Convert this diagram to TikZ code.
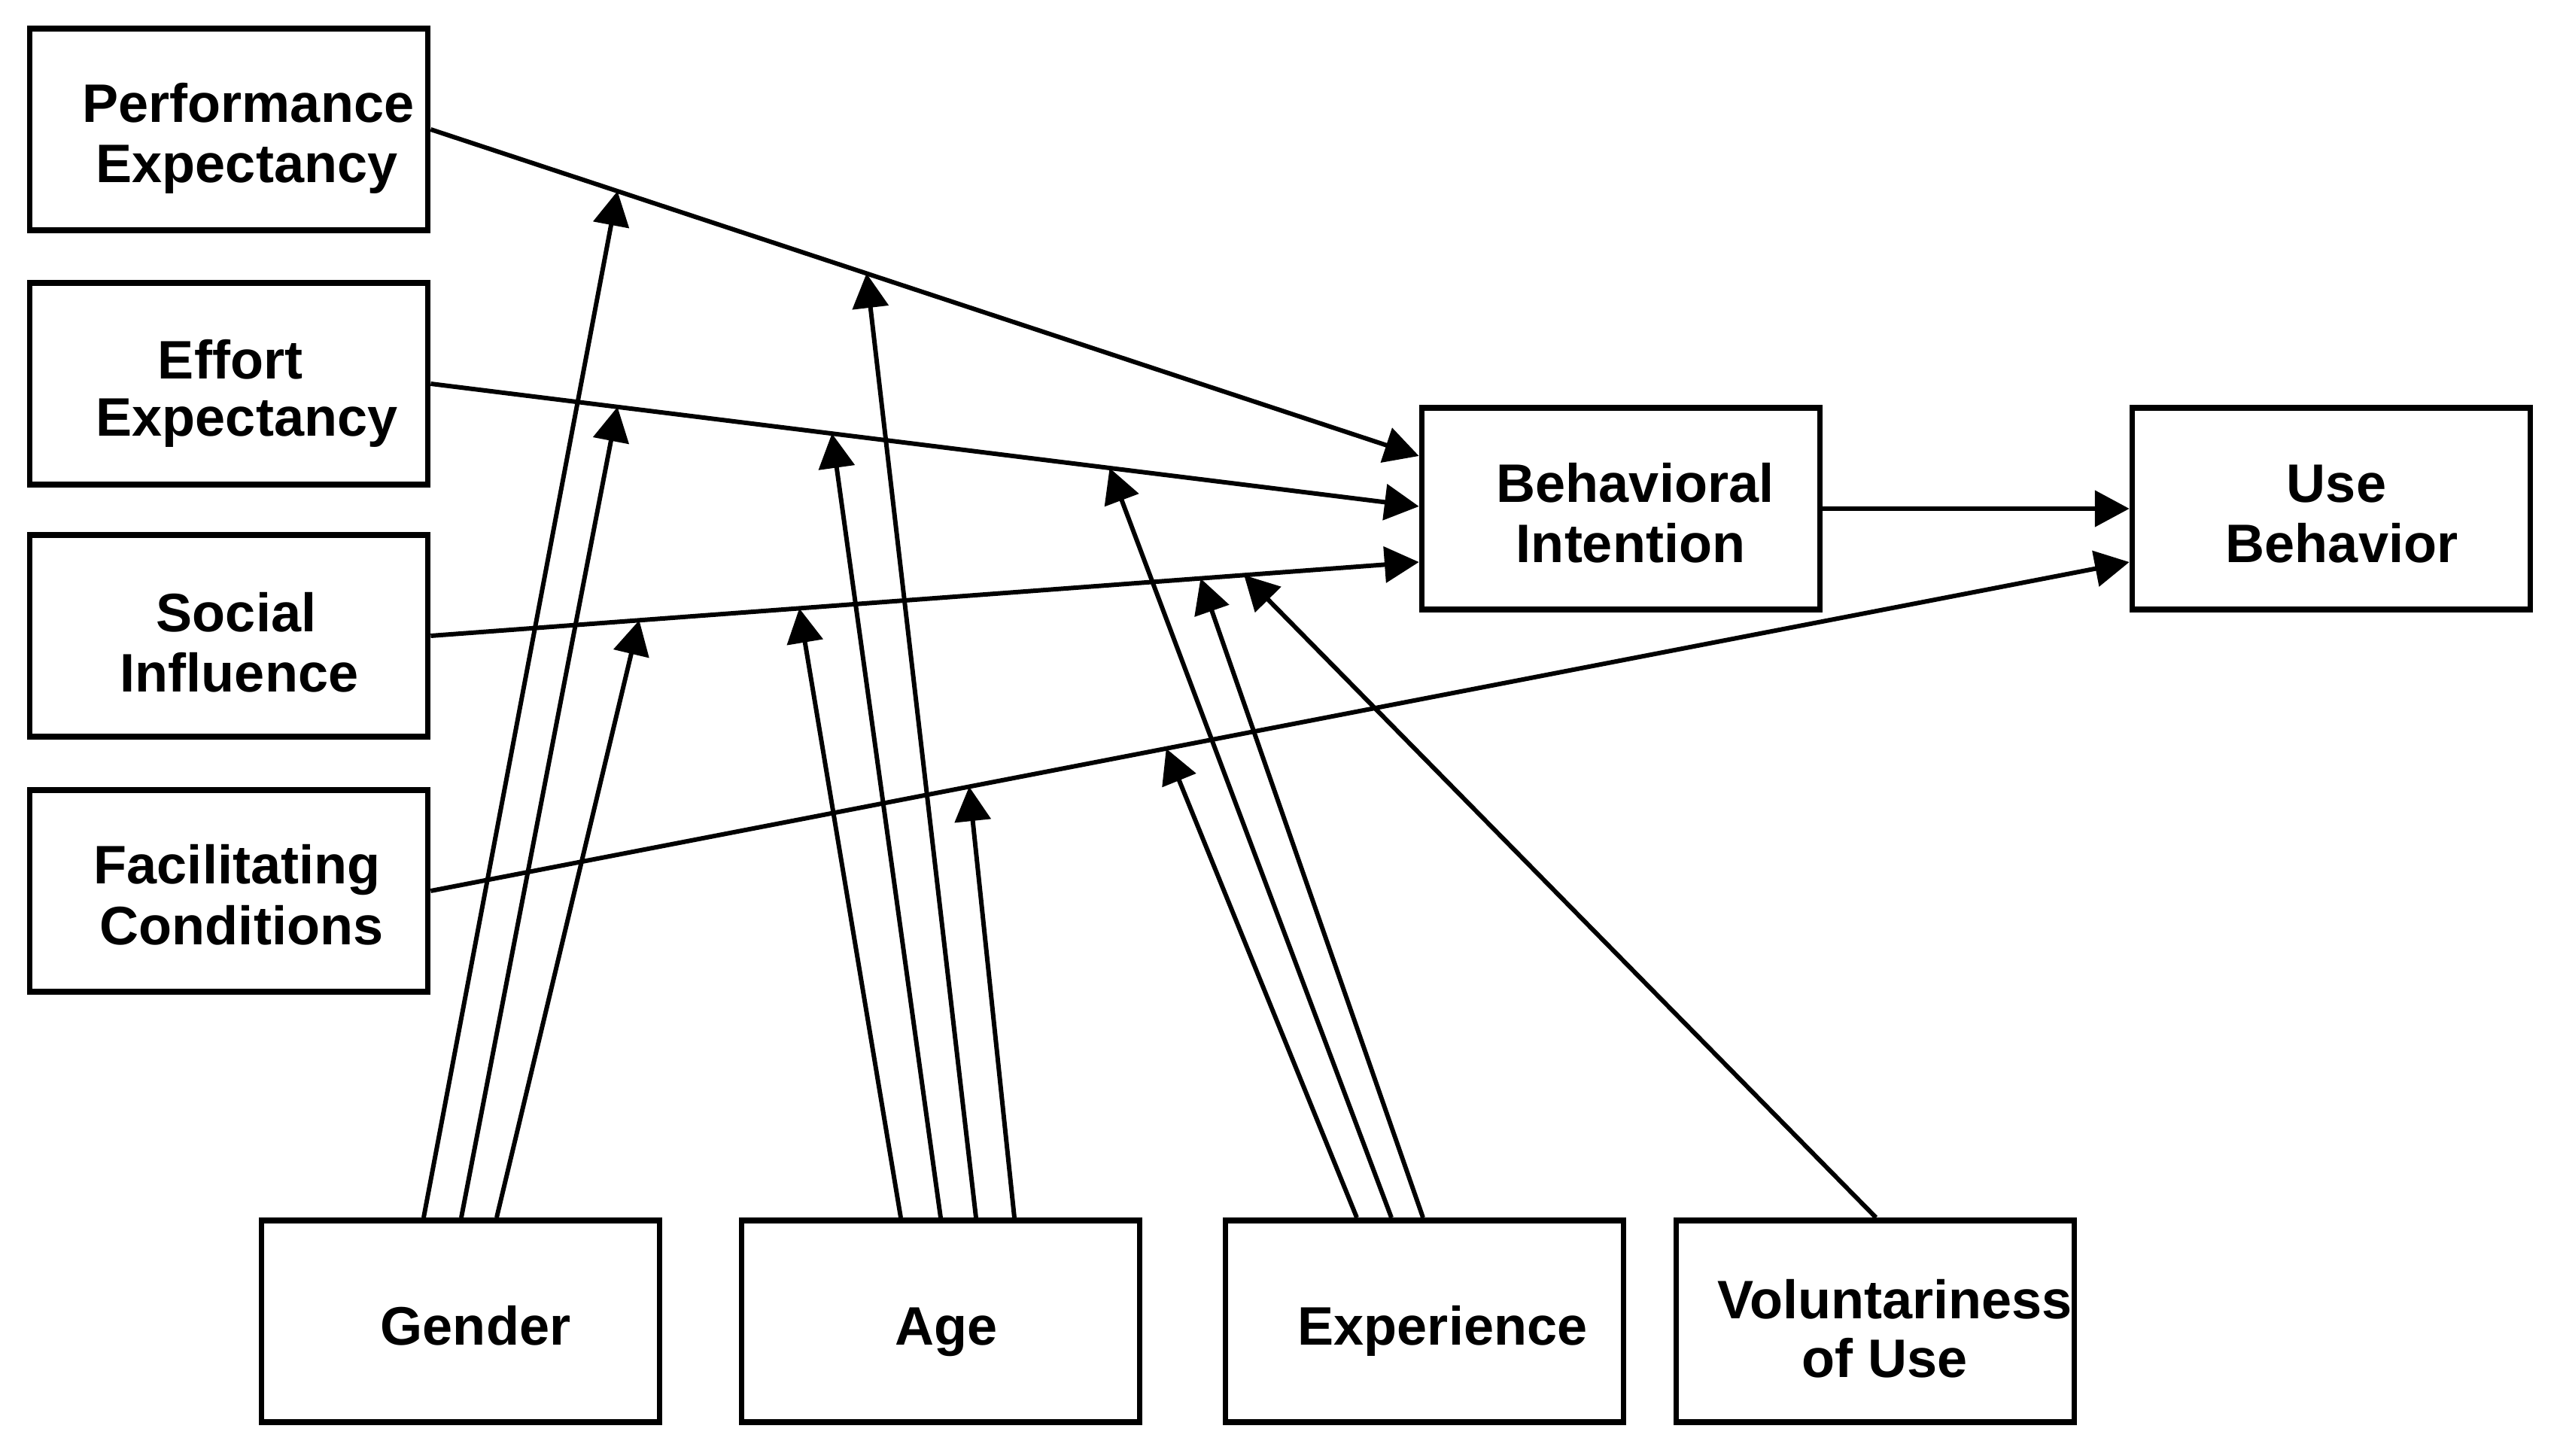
\documentclass[tikz,border=0pt]{standalone}
\usepackage{fontspec}
\setmainfont{Liberation Sans}
\usetikzlibrary{arrows.meta,calc}
\begin{document}
\begin{tikzpicture}[
  box/.style={draw, line width=2.2pt, minimum width=5.29cm, minimum height=2.68cm, inner sep=0pt},
  lbl/.style={anchor=base, inner sep=0pt, font=\fontsize{20.5}{24}\selectfont\bfseries},
  conn/.style={line width=1.7pt, -{Triangle[length=13pt,width=13.5pt]}},
]
\useasboundingbox (0,0) rectangle (33.94,-19.35);
\fill[white] (0,0) rectangle (33.94,-19.35);

% boxes
\node[box] (PE) at (3.04,-1.72) {};
\node[box] (EE) at (3.04,-5.10) {};
\node[box] (SI) at (3.04,-8.45) {};
\node[box] (FC) at (3.04,-11.84) {};
\node[box] (BI) at (21.54,-6.76) {};
\node[box] (UB) at (30.98,-6.76) {};
\node[box] (G) at (6.12,-17.56) {};
\node[box] (A) at (12.50,-17.56) {};
\node[box] (X) at (18.93,-17.56) {};
\node[box] (V) at (24.92,-17.56) {};

% labels
\node[lbl] (pe1) at (3.30,-1.63) {Performance};
\node[lbl] (pe2) at (3.28,-2.43) {Expectancy};
\node[lbl] (ee1) at (3.06,-5.04) {Effort};
\node[lbl] (ee2) at (3.28,-5.80) {Expectancy};
\node[lbl] (si1) at (3.14,-8.40) {Social};
\node[lbl] (si2) at (3.18,-9.20) {Influence};
\node[lbl] (fc1) at (3.15,-11.75) {Facilitating};
\node[lbl] (fc2) at (3.21,-12.55) {Conditions};
\node[lbl] (bi1) at (21.73,-6.68) {Behavioral};
\node[lbl] (bi2) at (21.67,-7.48) {Intention};
\node[lbl] (ub1) at (31.05,-6.68) {Use};
\node[lbl] (ub2) at (31.12,-7.48) {Behavior};
\node[lbl] (gt) at (6.32,-17.87) {Gender};
\node[lbl] (at) at (12.58,-17.87) {Age};
\node[lbl] (xt) at (19.17,-17.87) {Experience};
\node[lbl] (vt1) at (25.18,-17.52) {Voluntariness};
\node[lbl] (vt2) at (25.05,-18.30) {of Use};

% main paths
\draw[conn] (PE.east) -- coordinate[pos=0.189] (peG) coordinate[pos=0.441] (peA) ($(BI.west)+(0,0.70)$);
\draw[conn] (EE.east) -- coordinate[pos=0.189] (eeG) coordinate[pos=0.406] (eeA) coordinate[pos=0.687] (eeX) ($(BI.west)+(0,0.03)$);
\draw[conn] (SI.east) -- coordinate[pos=0.211] (siG) coordinate[pos=0.373] (siA) coordinate[pos=0.779] (siX) coordinate[pos=0.823] (siV) ($(BI.west)+(0,-0.71)$);
\draw[conn] (FC.east) -- coordinate[pos=0.317] (fcA) coordinate[pos=0.433] (fcX) ($(UB.west)+(0,-0.71)$);
\draw[conn] (BI.east) -- (UB.west);

% moderators: gender
\draw[conn] ($(G.north)+(-0.49,0)$) -- (peG);
\draw[conn] ($(G.north)+(0.01,0)$) -- (eeG);
\draw[conn] ($(G.north)+(0.48,0)$) -- (siG);
% age
\draw[conn] ($(A.north)+(-0.53,0)$) -- (siA);
\draw[conn] ($(A.north)+(0,0)$) -- (eeA);
\draw[conn] ($(A.north)+(0.47,0)$) -- (peA);
\draw[conn] ($(A.north)+(0.98,0)$) -- (fcA);
% experience
\draw[conn] ($(X.north)+(-0.90,0)$) -- (fcX);
\draw[conn] ($(X.north)+(-0.44,0)$) -- (eeX);
\draw[conn] ($(X.north)+(-0.02,0)$) -- (siX);
% voluntariness
\draw[conn] ($(V.north)+(0.01,0)$) -- (siV);
\end{tikzpicture}
\end{document}
